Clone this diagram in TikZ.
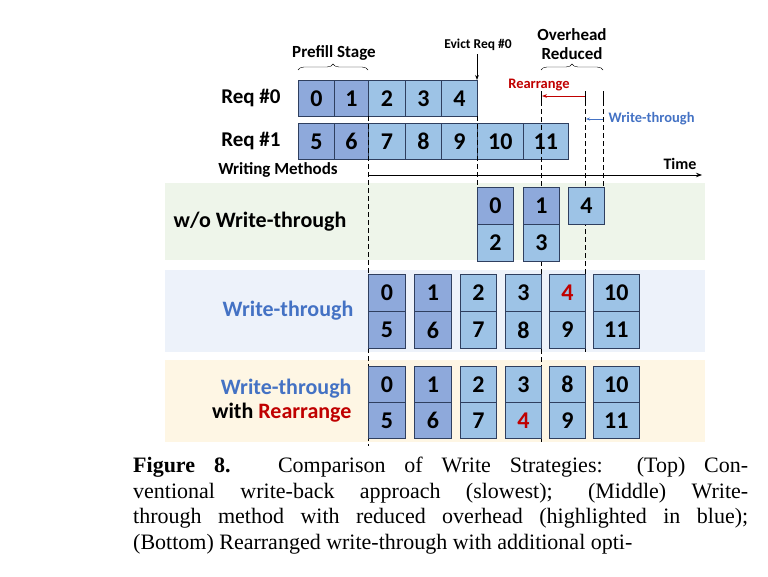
\documentclass[tikz,border=0pt]{standalone}
\usepackage{fontspec}
\setmainfont{Liberation Serif}
\newfontfamily\carl{Carlito}
\usetikzlibrary{decorations.pathreplacing,arrows.meta}
\definecolor{dk}{HTML}{8EA9DB}
\definecolor{lt}{HTML}{9DC3E6}
\definecolor{bd}{HTML}{2F3F5F}
\definecolor{wtb}{HTML}{4472C4}
\definecolor{rr}{HTML}{C00000}
\definecolor{pg}{HTML}{EEF5EA}
\definecolor{pb}{HTML}{EDF2FA}
\definecolor{py}{HTML}{FEF6E4}
\begin{document}
\begin{tikzpicture}[x=1pt,y=-1pt,
 lab/.style={font=\carl\bfseries\fontsize{22}{24}\selectfont},
 num/.style={font=\carl\bfseries\fontsize{24}{26}\selectfont},
 sm/.style={font=\carl\bfseries\fontsize{17}{19}\selectfont},
 ss/.style={font=\carl\bfseries\fontsize{14.5}{16}\selectfont},
 dsh/.style={dashed,thick,dash pattern=on 5pt off 3pt},
 cell/.style={draw=bd,line width=0.8pt}]
\useasboundingbox (0,0) rectangle (768,576);
% panels
\fill[pg] (165,183) rectangle (705,260);
\fill[pb] (165,270) rectangle (705,352);
\fill[py] (165,360) rectangle (705,442);
% request rows
\foreach \a/\b/\c/\t/\n in {298/334/dk/0/r0a,334/368/dk/1/r0b,368/405/lt/2/r0c,405/441/lt/3/r0d,441/477/lt/4/r0e}
 \node[cell,fill=\c,num,minimum width=\b-\a,minimum height=36,inner sep=0,anchor=north west] (\n) at (\a,80) {\t};
\foreach \a/\b/\c/\t/\n in {298/334/dk/5/r1a,334/368/dk/6/r1b,368/405/lt/7/r1c,405/441/lt/8/r1d,441/477/lt/9/r1e,477/523/lt/10/r1f,523/568/lt/11/r1g}
 \node[cell,fill=\c,num,minimum width=\b-\a,minimum height=36,inner sep=0,anchor=north west] (\n) at (\a,123) {\t};
\node[lab,font=\carl\bfseries\fontsize{21}{24}\selectfont,anchor=east] (q0) at (284,98) {Req \#0};
\node[lab,font=\carl\bfseries\fontsize{21}{24}\selectfont,anchor=east] (q1) at (284,141) {Req \#1};
\node[sm] (wm) at (278,170) {Writing Methods};
\coordinate (t0) at (368,175); \coordinate (t1) at (702,175);
\draw[thick,-{Stealth[length=6pt]}] (t0) -- (t1);
\node[sm,font=\carl\bfseries\fontsize{16}{18}\selectfont] (tm) at (680,164) {Time};
% braces
\coordinate (b0) at (298,70); \coordinate (b1) at (368,70);
\draw[decorate,decoration={brace,amplitude=6pt}] (b0) -- (b1);
\node[sm] (ps) at (334,53) {Prefill Stage};
\coordinate (b2) at (541,70); \coordinate (b3) at (603,70);
\draw[decorate,decoration={brace,amplitude=6pt}] (b2) -- (b3);
\node[sm,align=center] (ov) at (572,44) {Overhead\\Reduced};
\node[ss,font=\carl\bfseries\fontsize{13.5}{15}\selectfont] (ev) at (478,45) {Evict Req \#0};
\coordinate (e0) at (477,54); \coordinate (e1) at (477,80);
\draw[thick,-{Stealth[length=5pt]}] (e0) -- (e1);
% rearrange / write-through arrows
\node[ss,text=rr] (ra) at (539,85) {Rearrange};
\coordinate (ra0) at (585,96); \coordinate (ra1) at (542,96);
\draw[rr,thick,-{Stealth[length=5pt]}] (ra0) -- (ra1);
\node[ss,text=wtb,anchor=west] (wta) at (605,119) {Write-through};
\coordinate (wa0) at (603,119); \coordinate (wa1) at (586,119);
\draw[wtb,thick,-{Stealth[length=4pt]}] (wa0) -- (wa1);
\foreach \x in {541,585,603} \draw[thick] (\x,91) -- (\x,101);
% dashed guides
\draw[dsh] (368,116) -- (368,446);
\draw[dsh] (477,116) -- (477,187);
\draw[dsh] (541,101) -- (541,442);
\draw[dsh] (585,101) -- (585,352);
\draw[dsh] (603,101) -- (603,187);
% panel labels
\node[lab] (l1) at (260,222) {w/o Write-through};
\node[lab,text=wtb] (l2) at (288,311) {Write-through};
\node[lab,align=right,anchor=east] (l3) at (355,401) {\textcolor{wtb}{Write-through}\\with \textcolor{rr}{Rearrange}};
% w/o panel cells
\foreach \x/\c/\t/\n in {477/dk/0/g0,523/dk/1/g1,568/lt/4/g4}
 \node[cell,fill=\c,num,minimum width=36,minimum height=37,inner sep=0,anchor=north west] (\n) at (\x,187) {\t};
\foreach \x/\t/\n in {477/2/g2,523/3/g3}
 \node[cell,fill=lt,num,minimum width=36,minimum height=37,inner sep=0,anchor=north west] (\n) at (\x,224) {\t};
% write-through panel
\foreach \x/\w/\c/\t/\u/\n in {368/37/dk/0/5/wa,414/37/dk/1/6/wb,460/36/lt/2/7/wc,505/36/lt/3/8/wd,549/36/lt/{\textcolor{rr}{4}}/9/we,593/46/lt/10/11/wf}{
 \node[cell,fill=\c,num,minimum width=\w,minimum height=37,inner sep=0,anchor=north west] (\n t) at (\x,274) {\t};
 \node[cell,fill=\c,num,minimum width=\w,minimum height=37,inner sep=0,anchor=north west] (\n b) at (\x,311) {\u};}
% rearrange panel
\foreach \x/\w/\c/\t/\u/\n in {368/37/dk/0/5/ra,414/37/dk/1/6/rb,460/36/lt/2/7/rc,505/36/lt/3/{\textcolor{rr}{4}}/rd,549/36/lt/8/9/re,593/46/lt/10/11/rf}{
 \node[cell,fill=\c,num,minimum width=\w,minimum height=36,inner sep=0,anchor=north west] (\n t) at (\x,366) {\t};
 \node[cell,fill=\c,num,minimum width=\w,minimum height=36,inner sep=0,anchor=north west] (\n b) at (\x,402) {\u};}
% caption
\node[anchor=north west,inner sep=0,text width=615pt,align=justify,font=\fontsize{22}{25.5}\selectfont] (cap) at (133,457)
 {\parfillskip=0pt \textbf{Figure 8.} Comparison of Write Strategies: (Top) Con-\linebreak ventional write-back approach (slowest); (Middle) Write-\linebreak through method with reduced overhead (highlighted in blue);\linebreak (Bottom) Rearranged write-through with additional opti-};
\end{tikzpicture}
\end{document}
